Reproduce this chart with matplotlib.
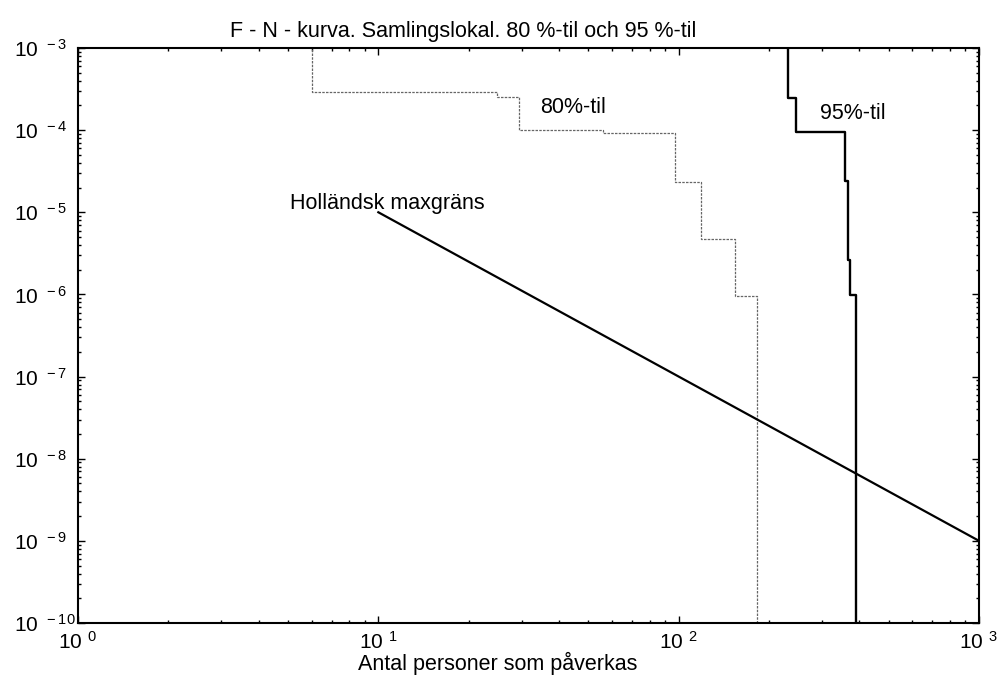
import matplotlib.pyplot as plt
import numpy as np
from matplotlib.ticker import LogLocator, NullFormatter

plt.rcParams['font.family'] = ['Liberation Sans', 'DejaVu Sans']
plt.rcParams['mathtext.fontset'] = 'custom'
plt.rcParams['mathtext.rm'] = 'Liberation Sans'
plt.rcParams['mathtext.default'] = 'regular'

# F-N curves: N where the curve drops, F level before/after each drop
n80 = [6.0, 24.8, 29.3, 56, 97, 119, 153.5, 183]
f80 = [2e-3, 2.95e-4, 2.55e-4, 9.9e-5, 9.2e-5, 2.35e-5, 4.7e-6, 9.7e-7, 1e-11]
n95 = [231, 246, 357, 365, 372, 390]
f95 = [2e-3, 2.45e-4, 9.6e-5, 2.4e-5, 2.6e-6, 9.8e-7, 1e-11]

# Dutch upper limit
hol_n = [10, 1000]
hol_f = [1e-5, 1e-9]

x_exp = [0, 1, 2, 3]
y_exp = [-10, -9, -8, -7, -6, -5, -4, -3]


def staircase(n, f):
    xs = np.repeat(np.asarray(n, float), 2)
    f = np.asarray(f, float)
    ys = np.empty(2 * len(n))
    ys[0::2] = f[:-1]
    ys[1::2] = f[1:]
    return xs, ys


def pow_label(e):
    return r'$\mathregular{10^{\;\,' + str(e) + '}}$'


fig = plt.figure(figsize=(10.04, 6.77), dpi=100)
ax = fig.add_axes([0.0777, 0.0798, 0.8974, 0.8493])
ax.set_xscale('log')
ax.set_yscale('log')
ax.set_xlim(1, 1000)
ax.set_ylim(1e-10, 1e-3)

ax.plot(*staircase(n80, f80), color='0.4', lw=0.9, ls=(0, (2, 1)))
ax.plot(*staircase(n95, f95), color='black', lw=1.7)
ax.plot(hol_n, hol_f, color='black', lw=1.6)

ax.set_xticks([10.0 ** e for e in x_exp], [pow_label(e) for e in x_exp])
ax.set_yticks([10.0 ** e for e in y_exp], [pow_label(e) for e in y_exp])
for a in (ax.xaxis, ax.yaxis):
    a.set_minor_locator(LogLocator(base=10, subs=np.arange(2, 10), numticks=20))
    a.set_minor_formatter(NullFormatter())
for lab in ax.get_yticklabels():
    lab.set_ha('left')

ax.tick_params(which='both', direction='in', top=True, right=True, width=1, labelsize=15)
ax.tick_params(which='major', length=5)
ax.tick_params(which='minor', length=2.5)
ax.tick_params(axis='x', pad=6)
ax.tick_params(axis='y', pad=46)
for s in ax.spines.values():
    s.set_linewidth(1.5)

ax.set_title('F - N - kurva. Samlingslokal. 80 %-til och 95 %-til',
             fontsize=15.5, x=0.428, pad=8)
ax.set_xlabel('Antal personer som påverkas', fontsize=15.5)
ax.xaxis.set_label_coords(0.466, -0.05)

ax.text(34.7, 1.9e-4, '80%-til', fontsize=15.5, ha='left', va='center')
ax.text(295, 1.6e-4, '95%-til', fontsize=15.5, ha='left', va='center')
ax.text(5.09, 1.29e-5, 'Holländsk maxgräns', fontsize=15.5, ha='left', va='center')

fig.savefig('out.png', dpi=100)
